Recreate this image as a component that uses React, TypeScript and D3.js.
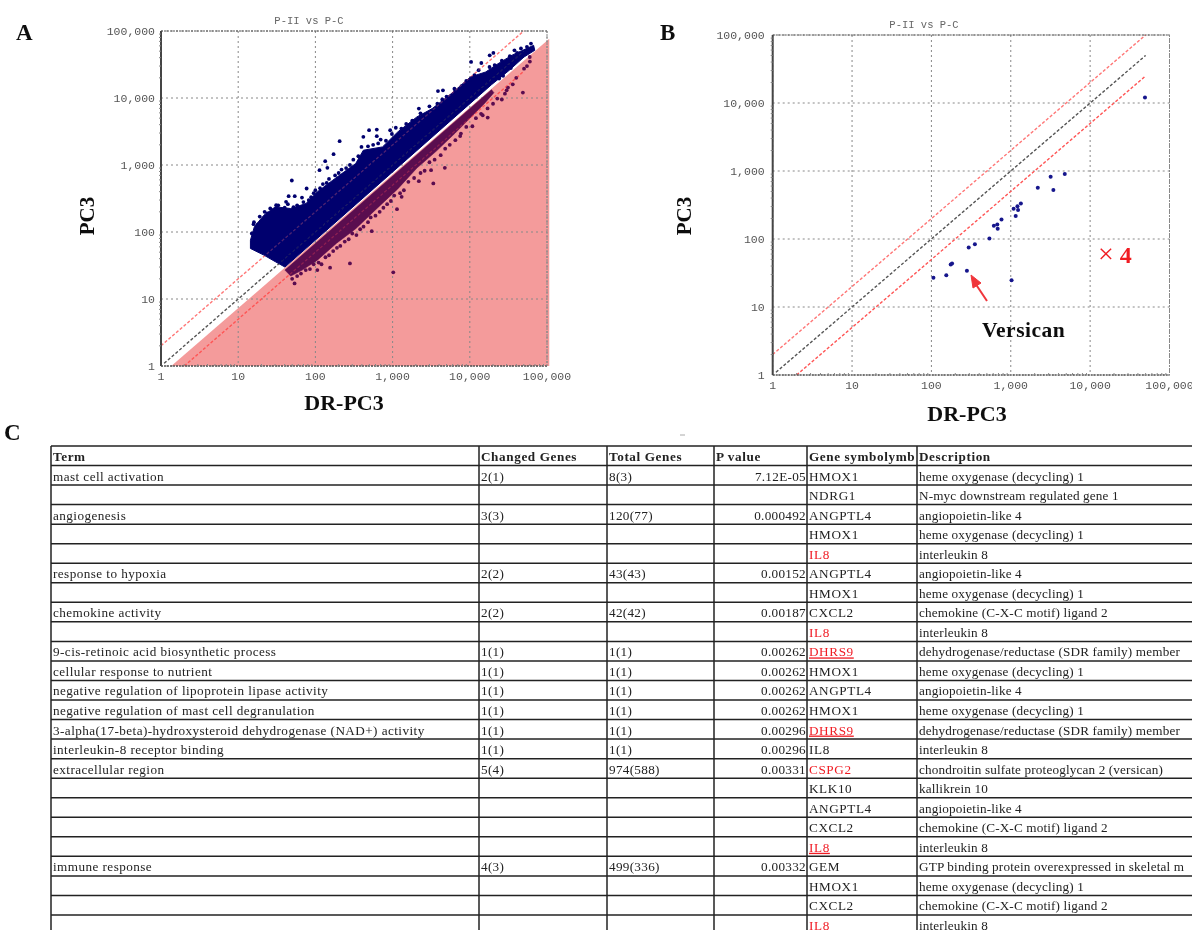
import * as d3 from "d3";

const W = 1192;
const H = 930;

const tickValues = [1, 10, 100, 1000, 10000, 100000];
const pinkArea: [number, number][] = [[1.36, 1], [107000, 76900], [107000, 1]];

// outline of the solid blue cloud in panel A (DR-PC3, PC3)
const cloudBlue: [number, number][] = [
  [14.4, 56.8], [14.4, 75.6], [16.2, 120], [21.5, 178], [30.3, 238], [47.9, 224], [75.5, 266], [106, 398],
  [168, 593], [236, 790], [333, 1052], [418, 1662], [740, 1862], [1167, 3120], [2065, 5224], [3260, 6950],
  [5770, 11640], [10200, 20600], [16100, 24500], [22700, 32000], [35800, 44000], [67100, 61100], [69400, 51500],
  [50400, 40900], [31900, 25500], [19100, 15800], [40.3, 30], [30.3, 36], [21.5, 45.2],
];
// outline of the part of the cloud that sits on the pink area
const cloudMaroon: [number, number][] = [
  [40.3, 27], [19100, 13300], [20500, 12000], [15500, 8300], [11400, 5800], [6470, 3000], [3660, 1600], [2065, 900],
  [1167, 440], [589, 210], [333, 112], [188, 68], [106, 38], [67.4, 27], [47.9, 22],
];
const outliersBlue: [number, number][] = [
  [49.5, 587], [206, 2265], [172, 1449], [134, 1140], [113, 836], [143, 906], [218, 855], [77, 446], [45, 343],
  [54, 343], [67, 327], [41.7, 282], [31, 251], [15.8, 131], [496, 3304], [624, 3380], [418, 2630], [624, 2690],
  [930, 3300], [395, 1860], [2188, 6950], [3870, 12700], [4490, 13000], [6320, 13800], [10400, 34500],
  [14100, 33300], [18100, 43300], [20200, 47000], [37900, 51500], [10000, 18800],
];
// dots read along the rough upper edge of the blue cloud
const edgeBlue: [number, number][] = [
  [15, 95], [16, 140], [18, 130], [19, 170], [22, 200], [24, 190], [26, 225], [28, 210], [33, 250], [36, 215],
  [40, 230], [44, 260], [52, 235], [58, 250], [63, 225], [70, 280], [82, 300], [88, 330], [95, 380], [100, 420],
  [115, 450], [125, 520], [140, 540], [150, 620], [180, 700], [200, 760], [250, 900], [280, 1000], [310, 1200],
  [360, 1350], [450, 1550], [480, 1900], [560, 2000], [650, 2100], [700, 2400], [820, 2300], [980, 2900],
  [1100, 3600], [1300, 3500], [1500, 4100], [1800, 4600], [2300, 5900], [2600, 5600], [3000, 7500], [3800, 8200],
  [4400, 9500], [5000, 10500], [6500, 13000], [7800, 15000], [9000, 18000], [11500, 22000], [13000, 26000],
  [15000, 22000], [18000, 29000], [21000, 31000], [24000, 27000], [26000, 36000], [30000, 34000], [33000, 42000],
  [41000, 47000], [46000, 55000], [55000, 58000], [62000, 65000], [27000, 21500], [34000, 28000], [24000, 19500],
];
const outliersMaroon: [number, number][] = [
  [53.7, 17.1], [106, 27], [155, 29.3], [280, 34], [1020, 25], [537, 103], [2188, 573], [3370, 530], [4750, 906],
  [3150, 836], [1140, 219], [1309, 335], [7670, 2945], [10800, 3790], [17060, 5100], [14700, 5530], [22700, 9800],
  [28500, 11600], [31200, 14300], [48700, 12050], [59800, 40900], [50400, 27400],
];
// dots read along the rough lower edge of the maroon part
const edgeMaroon: [number, number][] = [
  [50, 20], [58, 22], [65, 24], [75, 27], [85, 28], [95, 33], [110, 35], [120, 33], [135, 42], [150, 45], [170, 52],
  [190, 58], [210, 62], [240, 72], [270, 78], [300, 95], [340, 90], [380, 110], [420, 120], [480, 140], [520, 165],
  [600, 175], [680, 200], [760, 230], [850, 260], [950, 290], [1050, 350], [1250, 380], [1400, 420], [1600, 560],
  [1900, 640], [2300, 760], [2600, 820], [3000, 1100], [3500, 1200], [4200, 1400], [4800, 1750], [5500, 2000],
  [6500, 2350], [7500, 2700], [9000, 3700], [12000, 5000], [14000, 5800], [17000, 7000], [20000, 8200], [26000, 9500],
  [30000, 13000], [36000, 16000], [40000, 20000], [55000, 30000], [60000, 35000],
];
const pointsB: [number, number][] = [
  [106, 27], [154, 29.4], [175, 42], [182, 43.5], [280, 34], [295, 74.8], [353, 83.7], [538, 102], [612, 156],
  [676, 163], [684, 142], [764, 193], [1023, 24.8], [1086, 279], [1153, 218], [1213, 302], [1236, 267], [1340, 334],
  [2190, 568], [3180, 824], [3440, 525], [4790, 901], [49100, 12000],
];

const columnEdges = [51, 479, 607, 714, 807, 917, 1200];
const headers = ["Term", "Changed Genes", "Total Genes", "P value", "Gene symbolymb", "Description"];
const terms = [
  "mast cell activation", "", "angiogenesis", "", "", "response to hypoxia", "", "chemokine activity", "",
  "9-cis-retinoic acid biosynthetic process", "cellular response to nutrient",
  "negative regulation of lipoprotein lipase activity", "negative regulation of mast cell degranulation",
  "3-alpha(17-beta)-hydroxysteroid dehydrogenase (NAD+) activity", "interleukin-8 receptor binding",
  "extracellular region", "", "", "", "", "immune response", "", "", "",
];
const changedGenes = ["2(1)", "", "3(3)", "", "", "2(2)", "", "2(2)", "", "1(1)", "1(1)", "1(1)", "1(1)", "1(1)", "1(1)", "5(4)", "", "", "", "", "4(3)", "", "", ""];
const totalGenes = ["8(3)", "", "120(77)", "", "", "43(43)", "", "42(42)", "", "1(1)", "1(1)", "1(1)", "1(1)", "1(1)", "1(1)", "974(588)", "", "", "", "", "499(336)", "", "", ""];
const pValues = ["7.12E-05", "", "0.000492", "", "", "0.00152", "", "0.00187", "", "0.00262", "0.00262", "0.00262", "0.00262", "0.00296", "0.00296", "0.00331", "", "", "", "", "0.00332", "", "", ""];
const geneSymbols = [
  "HMOX1", "NDRG1", "ANGPTL4", "HMOX1", "IL8", "ANGPTL4", "HMOX1", "CXCL2", "IL8", "DHRS9", "HMOX1", "ANGPTL4",
  "HMOX1", "DHRS9", "IL8", "CSPG2", "KLK10", "ANGPTL4", "CXCL2", "IL8", "GEM", "HMOX1", "CXCL2", "IL8",
];
const descriptions = [
  "heme oxygenase (decycling) 1", "N-myc downstream regulated gene 1", "angiopoietin-like 4", "heme oxygenase (decycling) 1",
  "interleukin 8", "angiopoietin-like 4", "heme oxygenase (decycling) 1", "chemokine (C-X-C motif) ligand 2", "interleukin 8",
  "dehydrogenase/reductase (SDR family) member", "heme oxygenase (decycling) 1", "angiopoietin-like 4",
  "heme oxygenase (decycling) 1", "dehydrogenase/reductase (SDR family) member", "interleukin 8",
  "chondroitin sulfate proteoglycan 2 (versican)", "kallikrein 10", "angiopoietin-like 4", "chemokine (C-X-C motif) ligand 2",
  "interleukin 8", "GTP binding protein overexpressed in skeletal m", "heme oxygenase (decycling) 1",
  "chemokine (C-X-C motif) ligand 2", "interleukin 8",
];
const redGeneRows = [4, 8, 9, 13, 15, 19, 23];
const underlinedGeneRows = [9, 13, 19];

const serif = "'Liberation Serif', serif";
const mono = "'Liberation Mono', 'DejaVu Sans Mono', monospace";

function ScatterPanel({ left, right, top, bottom, title, titleX, titleY, xLabelX, xLabelY, yLabelX, labelGap, children }: any) {
  const x = d3.scaleLog().domain([1, 100000]).range([left, right]);
  const y = d3.scaleLog().domain([1, 100000]).range([bottom, top]);
  const minor = x.ticks().filter((t) => !tickValues.includes(t));
  const diag = (k: number, from: number) => `M${x(from)},${y(from * k)}L${x(50000)},${y(50000 * k)}`;
  const refLines = (opacity: number) => (
    <g fill="none" strokeWidth={1.3} strokeDasharray="3 2" opacity={opacity}>
      <path d={diag(1, 1.1)} stroke="#555" />
      <path d={diag(2, 1)} stroke="#f77" />
      <path d={diag(0.5, 2)} stroke="#f55" />
    </g>
  );
  return (
    <g>
      {children && children(x, y, "under")}
      {tickValues.map((t) => (
        <g key={t} stroke="#888" strokeWidth={1} strokeDasharray="2 3">
          <line x1={x(t)} x2={x(t)} y1={top} y2={bottom} />
          <line x1={left} x2={right} y1={y(t)} y2={y(t)} />
        </g>
      ))}
      {refLines(1)}
      {children && children(x, y, "marks")}
      {refLines(0.3)}
      <line x1={left} x2={left} y1={top} y2={bottom} stroke="#444" strokeWidth={2} />
      <line x1={left} x2={right} y1={bottom} y2={bottom} stroke="#555" strokeWidth={1.5} strokeDasharray="2 1" />
      <line x1={left} x2={right} y1={top} y2={top} stroke="#555" strokeWidth={1.2} strokeDasharray="2 1" />
      <line x1={right} x2={right} y1={top} y2={bottom} stroke="#888" strokeWidth={1} strokeDasharray="2 1" />
      {minor.map((t) => (
        <g key={t} stroke="#888">
          <line x1={x(t)} x2={x(t)} y1={bottom} y2={bottom - 2} />
          <line x1={left} x2={left - 2} y1={y(t)} y2={y(t)} />
        </g>
      ))}
      {tickValues.map((t) => (
        <g key={t} fontFamily={mono} fontSize={11.5} fill="#555">
          <text x={x(t)} y={bottom + 14} textAnchor="middle">{d3.format(",")(t)}</text>
          <text x={left - labelGap} y={y(t) + 4} textAnchor="end">{d3.format(",")(t)}</text>
        </g>
      ))}
      <text x={titleX} y={titleY} textAnchor="middle" fontFamily={mono} fontSize={10.5} fill="#666">{title}</text>
      <text x={xLabelX} y={xLabelY} textAnchor="middle" fontFamily={serif} fontWeight={700} fontSize={22} fill="#111">DR-PC3</text>
      <text transform={`translate(${yLabelX},216) rotate(-90)`} textAnchor="middle" fontFamily={serif} fontWeight={700} fontSize={21} fill="#111">PC3</text>
    </g>
  );
}

function Table() {
  const rowH = 19.54;
  const top = 446;
  const rowY = d3.scaleLinear().domain([0, 1]).range([top, top + rowH]);
  const rows = d3.range(0, 26);
  const columns = [terms, changedGenes, totalGenes, pValues, geneSymbols, descriptions];
  const spacing = [0.43, 0.3, 0.3, 0.3, 0.6, 0.15];
  return (
    <g fontFamily={serif} fontSize={13.2} fill="#222">
      {rows.map((r) => (
        <line key={r} x1={columnEdges[0]} x2={W} y1={rowY(r)} y2={rowY(r)} stroke="#222" strokeWidth={1.5} />
      ))}
      {columnEdges.slice(0, -1).map((c) => (
        <line key={c} x1={c} x2={c} y1={top} y2={H} stroke="#222" strokeWidth={1.5} />
      ))}
      {headers.map((h, i) => (
        <text key={h} x={columnEdges[i] + 2} y={rowY(0) + 15} fontWeight={700} letterSpacing={0.6}>{h}</text>
      ))}
      {columns.map((col, c) =>
        col.map((v, r) => {
          if (!v) return null;
          const red = c === 4 && redGeneRows.includes(r);
          const under = c === 4 && underlinedGeneRows.includes(r);
          const isP = c === 3;
          return (
            <text
              key={`${c}-${r}`}
              x={isP ? columnEdges[4] - 1 : columnEdges[c] + 2}
              y={rowY(r + 1) + 15}
              textAnchor={isP ? "end" : "start"}
              fill={red ? "#f01c24" : "#222"}
              textDecoration={under ? "underline" : undefined}
              letterSpacing={spacing[c]}
            >
              {v}
            </text>
          );
        }),
      )}
    </g>
  );
}

export default function App() {
  const outline = d3.line();
  return (
    <svg width={W} height={H} style={{ position: "absolute", left: 0, top: 0, background: "#fff" }}>
      <defs>
        <filter id="soft" x="0" y="0" width="100%" height="100%">
          <feGaussianBlur stdDeviation="0.45" />
        </filter>
      </defs>
      <g filter="url(#soft)">
        <text x={16} y={40} fontFamily={serif} fontWeight={700} fontSize={23} fill="#111">A</text>
        <text x={660} y={40} fontFamily={serif} fontWeight={700} fontSize={23} fill="#111">B</text>
        <text x={4} y={440} fontFamily={serif} fontWeight={700} fontSize={23} fill="#111">C</text>

        <ScatterPanel left={161} right={547} top={31} bottom={366} title="P-II vs P-C" titleX={309} titleY={24}
          xLabelX={344} xLabelY={410} yLabelX={94} labelGap={6}>
          {(x: any, y: any, layer: string) => {
            const pts = (a: [number, number][]) => a.map((d) => [x(d[0]), y(d[1])] as [number, number]);
            if (layer === "under") return <path d={outline(pts(pinkArea)) + "Z"} fill="#f49b9b" />;
            return (
              <g>
                <path d={outline(pts(cloudBlue)) + "Z"} fill="#00006e" stroke="#00006e" strokeWidth={1} />
                <path d={outline(pts(cloudMaroon)) + "Z"} fill="#5a0a50" stroke="#5a0a50" strokeWidth={0.6} />
                {outliersBlue.concat(edgeBlue).map((d, i) => <circle key={i} cx={x(d[0])} cy={y(d[1])} r={1.9} fill="#00006e" />)}
                {outliersMaroon.concat(edgeMaroon).map((d, i) => <circle key={i} cx={x(d[0])} cy={y(d[1])} r={1.9} fill="#5a0a50" />)}
              </g>
            );
          }}
        </ScatterPanel>

        <ScatterPanel left={772.7} right={1169.5} top={35} bottom={375} title="P-II vs P-C" titleX={924} titleY={28}
          xLabelX={967} xLabelY={421} yLabelX={691} labelGap={8}>
          {(x: any, y: any, layer: string) =>
            layer === "marks" ? (
              <g>{pointsB.map((d, i) => <circle key={i} cx={x(d[0])} cy={y(d[1])} r={2} fill="#14148c" />)}</g>
            ) : null
          }
        </ScatterPanel>

        <path d="M987,301L975,283" stroke="#f0353a" strokeWidth={2} fill="none" />
        <path d="M971,275L981,283L973,288Z" fill="#f0353a" stroke="#f0353a" />
        <text x={982} y={337} fontFamily={serif} fontWeight={700} fontSize={21.5} letterSpacing={0.5} fill="#111">Versican</text>
        <text x={1098} y={263} fontFamily={serif} fontWeight={700} fontSize={24} fill="#f01c24">
          <tspan fontWeight={400} fontSize={28}>×</tspan> 4
        </text>
        <line x1={680} x2={685} y1={435} y2={435} stroke="#aaa" />

        <Table />
      </g>
    </svg>
  );
}
